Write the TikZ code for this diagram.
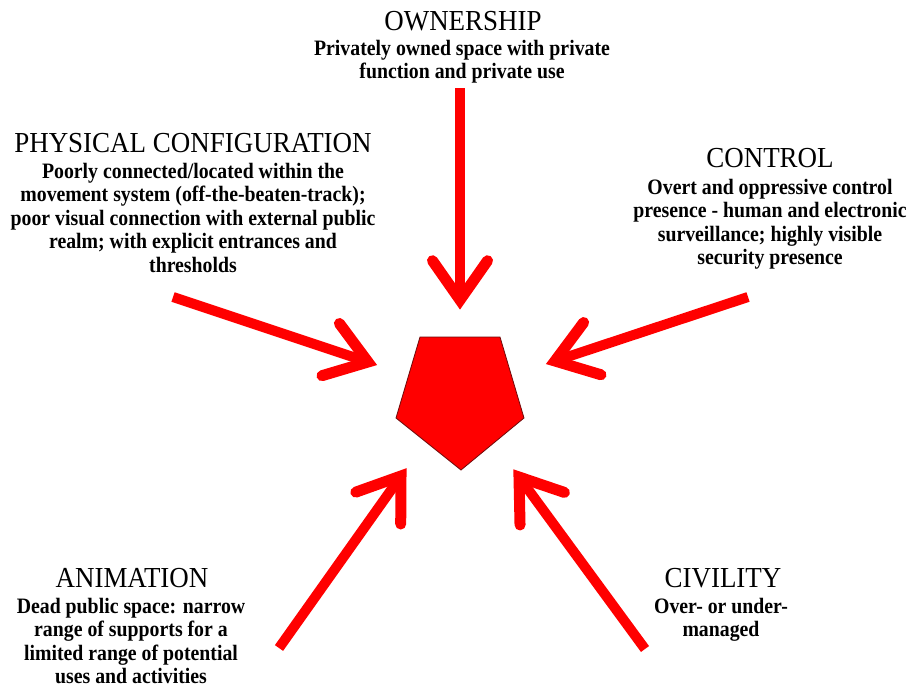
\documentclass[tikz,border=0pt]{standalone}
\usepackage{fontspec}
\setmainfont{Liberation Serif}
\newfontfamily\bodyfont[FakeStretch=0.9]{Liberation Serif}
\newfontfamily\titlefont[FakeStretch=0.93]{Liberation Serif}
\usetikzlibrary{calc}
\definecolor{arrowred}{RGB}{255,0,0}
\definecolor{edgered}{RGB}{110,10,10}
\tikzset{
  shaft/.style={draw=arrowred, line width=10pt, line cap=butt},
  barb/.style={draw=arrowred, line width=11pt, line cap=round, line join=miter},
  ttl/.style={inner sep=0pt, font=\titlefont\fontsize{29}{30}\selectfont},
  body/.style={inner sep=0pt, anchor=north, align=center, font=\bodyfont\bfseries\fontsize{22}{23.5}\selectfont},
  penta/.style={fill=arrowred, draw=edgered, line width=0.8pt, line join=miter},
}
\newcommand{\redarrow}[2]{%
  \draw[shaft] (#1) -- (#2);
  \draw[barb] ($(#2)!48pt!35:(#1)$) -- (#2) -- ($(#2)!48pt!-35:(#1)$);
}
\begin{document}
\begin{tikzpicture}[x=1pt,y=-1pt]
\useasboundingbox[fill=white] (0,0) rectangle (913,691);

% pentagon
\coordinate (p1) at (420,337);
\coordinate (p2) at (500,337);
\coordinate (p3) at (524,418);
\coordinate (p4) at (461,470);
\coordinate (p5) at (396,418);
\draw[penta] (p1) -- (p2) -- (p3) -- (p4) -- (p5) -- cycle;

% arrows
\coordinate (s1) at (460,88);  \coordinate (t1) at (460,300);
\coordinate (s2) at (173,297); \coordinate (t2) at (368,362);
\coordinate (s3) at (748,297); \coordinate (t3) at (555,361);
\coordinate (s4) at (279,648); \coordinate (t4) at (401,476);
\coordinate (s5) at (645,649); \coordinate (t5) at (519,477);
\redarrow{s1}{t1}
\redarrow{s2}{t2}
\redarrow{s3}{t3}
\redarrow{s4}{t4}
\redarrow{s5}{t5}

% labels
\node[ttl] (own) at (463,21) {OWNERSHIP};
\node[body] (ownb) at (462,40) {Privately owned space with private\\function and private use};

\node[ttl] (phys) at (193,143) {PHYSICAL CONFIGURATION};
\node[body] (physb) at (193,163) {Poorly connected/located within the\\movement system (off-the-beaten-track);\\poor visual connection with external public\\realm; with explicit entrances and\\thresholds};

\node[ttl] (ctrl) at (770,158) {CONTROL};
\node[body] (ctrlb) at (770,179) {Overt and oppressive control\\presence - human and electronic\\surveillance; highly visible\\security presence};

\node[ttl] (anim) at (132,578) {ANIMATION};
\node[body] (animb) at (131,598) {Dead public space: narrow\\range of supports for a\\limited range of potential\\uses and activities};

\node[ttl] (civ) at (723,578) {CIVILITY};
\node[body] (civb) at (721,598) {Over- or under-\\managed};
\end{tikzpicture}
\end{document}
